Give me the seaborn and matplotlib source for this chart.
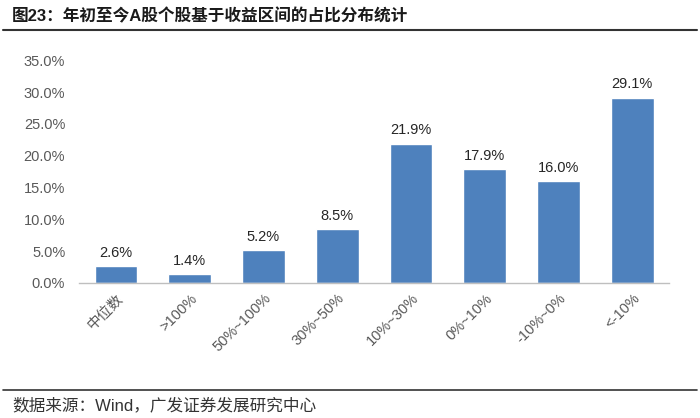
import numpy as np
import pandas as pd
import seaborn as sns
import matplotlib.pyplot as plt
from matplotlib.lines import Line2D
from matplotlib.ticker import FuncFormatter

sns.set_theme(style="white")
plt.rcParams["font.family"] = ["Liberation Sans", "Noto Sans CJK SC", "DejaVu Sans"]

categories = ["中位数", ">100%", "50%~100%", "30%~50%", "10%~30%", "0%~10%", "-10%~0%", "<-10%"]
shares = [2.6, 1.4, 5.2, 8.5, 21.9, 17.9, 16.0, 29.1]
title = "图23：年初至今A股个股基于收益区间的占比分布统计"
source = "数据来源：Wind，广发证券发展研究中心"

df = pd.DataFrame({"category": categories, "share": shares})

fig = plt.figure(figsize=(7, 4.18), dpi=100)
ax = fig.add_axes([0.113, 0.323, 0.843, 0.533])

sns.barplot(data=df, x="category", y="share", color="#4E81BD", width=0.58,
            saturation=1, ax=ax)

for i, v in enumerate(shares):
    ax.text(i, v + 1.0, f"{v:.1f}%", ha="center", va="bottom",
            fontsize=10.5, color="#262626")

ax.set_ylim(0, 35)
ax.set_yticks(np.arange(0, 36, 5))
ax.yaxis.set_major_formatter(FuncFormatter(lambda y, _: f"{y:.1f}%"))
ax.set_xlim(-0.5, len(categories) - 0.5)
ax.set_xlabel("")
ax.set_ylabel("")
ax.tick_params(axis="y", labelsize=10.5, labelcolor="#595959", length=0, pad=10)
ax.tick_params(axis="x", labelsize=10.5, labelcolor="#595959", length=0, pad=6)
for lab in ax.get_xticklabels():
    lab.set_rotation(45)
    lab.set_ha("right")
    lab.set_rotation_mode("anchor")

for side in ["top", "right", "left"]:
    ax.spines[side].set_visible(False)
ax.spines["bottom"].set_color("#BFBFBF")
ax.spines["bottom"].set_linewidth(1)

fig.text(0.017, 0.962, title, fontsize=12, fontweight="bold", color="#1a1a1a",
         va="center", ha="left")
fig.add_artist(Line2D([0.004, 0.996], [0.928, 0.928], color="#333333", lw=1.5))
fig.add_artist(Line2D([0.004, 0.996], [0.067, 0.067], color="#333333", lw=1.2))
fig.text(0.017, 0.030, source, fontsize=12, color="#333333", va="center", ha="left")

fig.savefig("out.png", dpi=100)
